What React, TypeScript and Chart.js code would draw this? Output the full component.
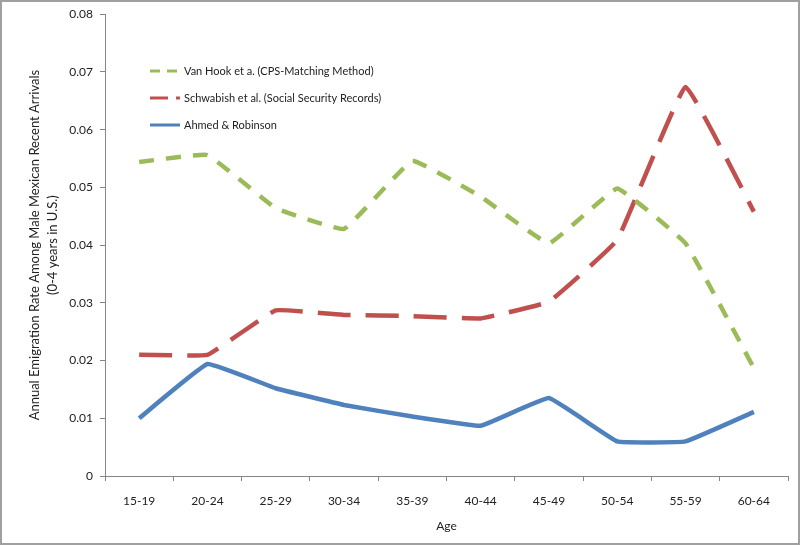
import React, { useEffect, useRef } from "react";
import { Chart, registerables } from "chart.js";

Chart.register(...registerables);

const categories = ["15-19", "20-24", "25-29", "30-34", "35-39", "40-44", "45-49", "50-54", "55-59", "60-64"];
const vanHook = [0.0544, 0.0556, 0.0464, 0.0428, 0.0546, 0.0484, 0.0403, 0.0498, 0.0403, 0.0187];
const schwabish = [0.021, 0.021, 0.0287, 0.0279, 0.0277, 0.0273, 0.0302, 0.0409, 0.0674, 0.0458];
const ahmed = [0.01, 0.0194, 0.0152, 0.0123, 0.0103, 0.0087, 0.0135, 0.006, 0.006, 0.0111];
const seriesLabels = [
  "Van Hook et a. (CPS-Matching Method)",
  "Schwabish et al. (Social Security Records)",
  "Ahmed & Robinson",
];
const yTitle = ["Annual Emigration Rate Among Male Mexican Recent Arrivals", "(0-4 years in U.S.)"];
const xTitle = "Age";

const FONT = "Lato, 'Open Sans', sans-serif";

const decorPlugin = {
  id: "decor",
  afterDraw(chart: any) {
    const ctx = chart.ctx;
    const area = chart.chartArea;
    ctx.save();
    // frame
    ctx.strokeStyle = "#a0a0a0";
    ctx.lineWidth = 2;
    ctx.strokeRect(1, 1, chart.width - 2, chart.height - 2);
    // y title
    ctx.fillStyle = "#222";
    ctx.font = `13px ${FONT}`;
    ctx.textAlign = "center";
    ctx.textBaseline = "middle";
    const cy = (area.top + area.bottom) / 2;
    const xs = [35, 53];
    yTitle.forEach((t, i) => {
      ctx.save();
      ctx.translate(xs[i], cy);
      ctx.rotate(-Math.PI / 2);
      ctx.fillText(t, 0, 0);
      ctx.restore();
    });
    // x title
    ctx.font = `12px ${FONT}`;
    ctx.fillText(xTitle, (area.left + area.right) / 2, 526);
    // legend
    ctx.textAlign = "left";
    ctx.font = `11px ${FONT}`;
    chart.data.datasets.forEach((ds: any, i: number) => {
      const y = 71 + i * 27;
      ctx.save();
      ctx.strokeStyle = ds.borderColor;
      ctx.lineWidth = 3;
      ctx.setLineDash(ds.legendDash || []);
      ctx.beginPath();
      ctx.moveTo(150, y);
      ctx.lineTo(180, y);
      ctx.stroke();
      ctx.restore();
      ctx.fillStyle = "#222";
      ctx.fillText(ds.label, 184, y);
    });
    ctx.restore();
  },
};

export default function App() {
  const ref = useRef<HTMLCanvasElement | null>(null);
  useEffect(() => {
    if (!ref.current) return;
    const chart = new Chart(ref.current, {
      type: "line",
      data: {
        labels: categories,
        datasets: [
          {
            label: seriesLabels[0],
            data: vanHook,
            borderColor: "#9BBB59",
            borderWidth: 4.5,
            borderDash: [15, 12],
            legendDash: [10, 7],
            pointRadius: 0,
            tension: 0.08,
            fill: false,
          } as any,
          {
            label: seriesLabels[1],
            data: schwabish,
            borderColor: "#C0504D",
            borderWidth: 4.5,
            borderDash: [33, 15],
            legendDash: [18, 8],
            pointRadius: 0,
            tension: 0.08,
            fill: false,
          } as any,
          {
            label: seriesLabels[2],
            data: ahmed,
            borderColor: "#4F81BD",
            borderWidth: 4.5,
            pointRadius: 0,
            tension: 0.08,
            fill: false,
          } as any,
        ],
      },
      options: {
        animation: false,
        responsive: true,
        maintainAspectRatio: false,
        layout: { padding: { top: 14, right: 12, left: 0, bottom: 0 } },
        plugins: { legend: { display: false }, tooltip: { enabled: false } },
        scales: {
          x: {
            offset: true,
            grid: { offset: true, drawOnChartArea: false, drawTicks: true, tickLength: 5, color: "#868686" },
            border: { color: "#868686", width: 1 },
            ticks: { color: "#222", font: { family: FONT, size: 12 }, padding: 13, maxRotation: 0 },
            afterFit: (s: any) => {
              s.height = 69;
            },
          },
          y: {
            min: 0,
            max: 0.08,
            grid: { drawOnChartArea: false, drawTicks: true, tickLength: 5, color: "#868686" },
            border: { color: "#868686", width: 1 },
            ticks: {
              stepSize: 0.01,
              color: "#222",
              font: { family: FONT, size: 12 },
              padding: 7,
              callback: (v: any) => (Number(v) === 0 ? "0" : Number(v).toFixed(2)),
            },
            afterFit: (s: any) => {
              s.width = 105;
            },
          },
        },
      },
      plugins: [decorPlugin],
    });
    return () => chart.destroy();
  }, []);
  return (
    <div style={{ position: "absolute", left: 0, top: 0, width: 800, height: 545, background: "#fff" }}>
      <canvas ref={ref} />
    </div>
  );
}
